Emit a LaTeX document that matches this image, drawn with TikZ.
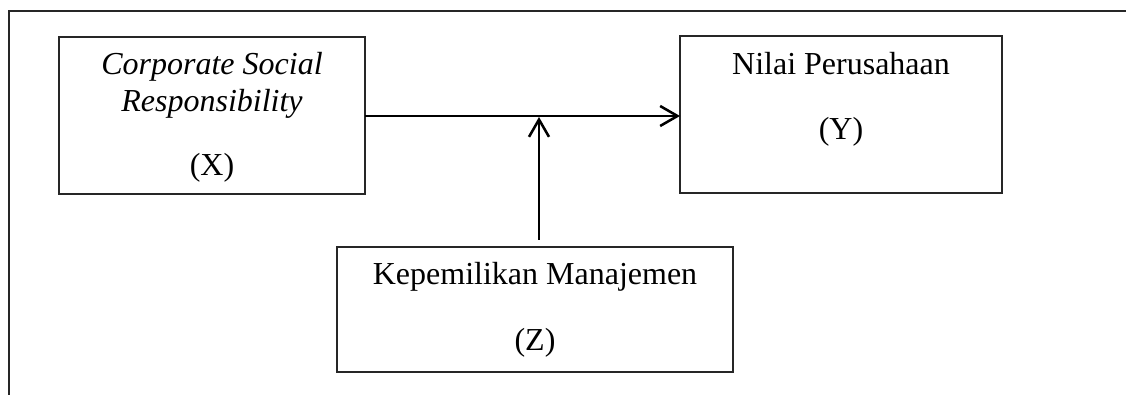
\documentclass[tikz,border=0pt]{standalone}
\usepackage{fontspec}
\setmainfont{Liberation Serif}
\usetikzlibrary{arrows.meta}
\begin{document}
\begin{tikzpicture}[x=0.375pt,y=-0.375pt,
  box/.style={draw=black!85,line width=0.5pt,inner sep=0pt,outer sep=0pt,minimum height=58.875pt},
  txt/.style={anchor=base,inner sep=0pt,font=\fontsize{12}{14}\selectfont},
  conn/.style={line width=0.95pt,-{Straight Barb[length=6.5pt,width=7.5pt,line width=0.95pt]}},
  frame/.style={draw=black!85,line width=0.45pt}]
\useasboundingbox (0,0) rectangle (1126,395);
\draw[frame] (1126,11) -- (9,11) -- (9,395);
\node[box,minimum width=114.75pt] (X) at (212,115.5) {};
\node[box,minimum width=120.75pt] (Y) at (841,114.5) {};
\node[box,minimum width=148.5pt,minimum height=46.875pt] (Z) at (535,309.5) {};
\node[txt] (x1) at (212,75) {\itshape Corporate Social};
\node[txt] (x2) at (212,112) {\itshape Responsibility};
\node[txt] (x3) at (212,176) {(X)};
\node[txt] (y1) at (841,75) {Nilai Perusahaan};
\node[txt] (y2) at (841,140) {(Y)};
\node[txt] (z1) at (535,285) {Kepemilikan Manajemen};
\node[txt] (z2) at (535,350) {(Z)};
\coordinate (zs) at (539,240);
\coordinate (m) at (539,117);
\draw[conn] (X.east |- 0,116) -- (Y.west |- 0,116);
\draw[conn] (zs) -- (m);
\end{tikzpicture}
\end{document}
